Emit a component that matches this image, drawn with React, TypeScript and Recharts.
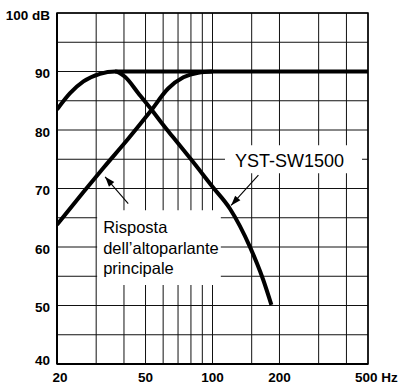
import { LineChart, Line, XAxis, YAxis, CartesianGrid, ReferenceArea } from "recharts";

// frequency (Hz) / level (dB)
const subFreq = [20, 22.9, 26.3, 31.2, 36.5, 40.4, 46.4, 52.4, 59.1, 66.7, 79.2, 100, 120, 147, 169, 184];
const subDb = [83.5, 86.3, 88.3, 89.6, 90, 89.1, 86.3, 83.8, 81.2, 78.7, 75.2, 70.3, 66.5, 60.1, 54.4, 50.1];

const mainFreq = [20, 26.3, 32.3, 41.8, 52.4, 63.2, 74, 86.3, 100];
const mainDb = [63.8, 69.4, 73.5, 78.5, 83.1, 87.1, 89.0, 89.8, 90];

const sumFreq = [36.5, 500];
const sumDb = [90, 90];

// arrow lines: [tail, tip]
const subArrowFreq = [160.8, 121.2];
const subArrowDb = [72.3, 67.1];
const mainArrowFreq = [41.8, 32.9];
const mainArrowDb = [67.4, 72.0];

const xTicks = [20, 30, 40, 50, 60, 70, 80, 90, 100, 150, 200, 300, 400, 500];
const xLabeled = [20, 50, 100, 200, 500];
const yTicks = [40, 45, 50, 55, 60, 65, 70, 75, 80, 85, 90, 95, 100];

const subLabel = ["YST-SW1500"];
const mainLabel = ["Risposta", "dell\u2019altoparlante", "principale"];

const toRows = (fs: number[], vs: number[]) => fs.map((f, i) => ({ f, db: vs[i] }));

const subData = toRows(subFreq, subDb);
const mainData = toRows(mainFreq, mainDb);
const sumData = toRows(sumFreq, sumDb);
const subArrow = toRows(subArrowFreq, subArrowDb);
const mainArrow = toRows(mainArrowFreq, mainArrowDb);

const FONT = "'Liberation Sans', Arial, Helvetica, sans-serif";

const XTick = ({ x, y, payload }: any) => {
  const v = payload.value;
  if (!xLabeled.includes(v)) return <g />;
  const last = v === 500;
  return (
    <text
      x={x + (last ? -13 : v === 20 ? 3 : 0)}
      y={y + 18}
      textAnchor={last ? "start" : "middle"}
      fontFamily={FONT}
      fontWeight="bold"
      fontSize={13.5}
      fill="#000"
    >
      {last ? "500 Hz" : String(v)}
    </text>
  );
};

const YTick = ({ x, y, payload }: any) => {
  const v = payload.value;
  if (v % 10 !== 0) return <g />;
  const dy = v === 40 ? 1 : v === 100 ? 7 : 6.5;
  return (
    <text x={x - 7} y={y + dy} textAnchor="end" fontFamily={FONT} fontWeight="bold" fontSize={13.5} fill="#000">
      {v === 100 ? "100 dB" : String(v)}
    </text>
  );
};

const BoxText = ({ viewBox, lines, dx, first, step, size }: any) => {
  if (!viewBox) return null;
  return (
    <text fontFamily={FONT} fontSize={size} fill="#000">
      {lines.map((l: string, i: number) => (
        <tspan key={i} x={viewBox.x + dx} y={viewBox.y + first + i * step}>
          {l}
        </tspan>
      ))}
    </text>
  );
};

const ArrowHead = (props: any) => {
  const { cx, cy, index, points } = props;
  if (index !== 1 || cx == null) return <g key={`a-${index}`} />;
  const from = points && points[0] ? points[0] : { x: cx + 20, y: cy - 20 };
  const ang = Math.atan2(cy - from.y, cx - from.x);
  const len = 10;
  const half = 3.5;
  const bx = cx - len * Math.cos(ang);
  const by = cy - len * Math.sin(ang);
  const px = -Math.sin(ang) * half;
  const py = Math.cos(ang) * half;
  return (
    <polygon
      key={`a-${index}`}
      points={`${cx},${cy} ${bx + px},${by + py} ${bx - px},${by - py}`}
      fill="#000"
      stroke="none"
    />
  );
};

export default function App() {
  return (
    <div style={{ position: "absolute", left: 0, top: 0, width: 399, height: 384, background: "#fff" }}>
      <LineChart width={399} height={384} margin={{ top: 13, right: 31, bottom: 0, left: 0 }}>
        <CartesianGrid stroke="#111" strokeWidth={1} />
        <XAxis
          dataKey="f"
          type="number"
          scale="log"
          domain={[20, 500]}
          ticks={xTicks}
          interval={0}
          allowDataOverflow
          height={20}
          tickLine={false}
          tickSize={0}
          tickMargin={0}
          axisLine={{ stroke: "#000", strokeWidth: 2 }}
          tick={<XTick />}
        />
        <YAxis
          type="number"
          domain={[40, 100]}
          ticks={yTicks}
          interval={0}
          width={57}
          tickLine={false}
          tickSize={0}
          tickMargin={0}
          axisLine={{ stroke: "#000", strokeWidth: 2 }}
          tick={<YTick />}
        />
        <ReferenceArea x1={20} x2={500} y1={40} y2={100} fill="none" stroke="#000" strokeWidth={1.5} />
        <ReferenceArea
          x1={113.8}
          x2={470}
          y1={72.6}
          y2={77.4}
          fill="#fff"
          fillOpacity={1}
          stroke="none"
          label={<BoxText lines={subLabel} dx={10} first={21.5} step={0} size={18} />}
        />
        <ReferenceArea
          x1={30.3}
          x2={109}
          y1={53.5}
          y2={66.3}
          fill="#fff"
          fillOpacity={1}
          stroke="none"
          label={<BoxText lines={mainLabel} dx={6} first={23.3} step={20.4} size={16.5} />}
        />
        <Line data={sumData} dataKey="db" type="linear" stroke="#000" strokeWidth={4} dot={false} activeDot={false} isAnimationActive={false} />
        <Line data={subData} dataKey="db" type="monotone" stroke="#000" strokeWidth={4} dot={false} activeDot={false} isAnimationActive={false} />
        <Line data={mainData} dataKey="db" type="monotone" stroke="#000" strokeWidth={4} dot={false} activeDot={false} isAnimationActive={false} />
        <Line data={subArrow} dataKey="db" type="linear" stroke="#000" strokeWidth={1.1} dot={<ArrowHead />} activeDot={false} isAnimationActive={false} />
        <Line data={mainArrow} dataKey="db" type="linear" stroke="#000" strokeWidth={1.1} dot={<ArrowHead />} activeDot={false} isAnimationActive={false} />
      </LineChart>
    </div>
  );
}
